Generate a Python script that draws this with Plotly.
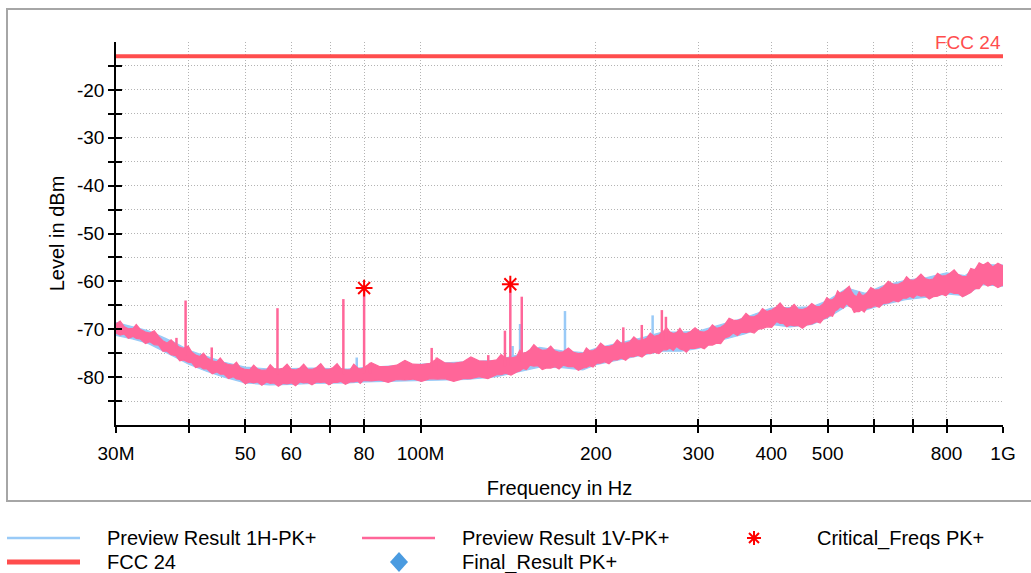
import math
import plotly.graph_objects as go

# ---------------- data (frequencies in MHz, levels in dBm) ----------------
# Preview Result 1V-PK+ : peak (upper) and floor (lower) envelope of the trace
v_freq = [30, 30.5, 31, 31.5, 32.1, 32.5, 33, 33.7, 34.3, 34.9,
          35.5, 36.1, 36.7, 37.3, 38, 38.6, 39.2, 39.9, 40.5, 41.1,
          41.8, 42.4, 43, 43.9, 44.7, 45.3, 46, 46.8, 47.7, 48.3,
          49, 50, 50.9, 51.7, 52.5, 53.4, 54.4, 55.2, 56, 57,
          58.1, 59, 60, 61, 62.1, 63, 64, 65.1, 66.3, 67.4,
          68.5, 69.6, 70.8, 71.9, 73, 74.3, 75.7, 76.8, 78, 78.8,
          79.7, 82.3, 85, 88, 91, 94, 97, 100.4, 103.8, 107,
          110, 114, 118.4, 122, 126, 130.5, 135.1, 137.5, 140, 143,
          146.3, 148, 150, 152, 154.1, 156.5, 159, 161.8, 164.6, 167.3,
          170, 172.9, 175.8, 179.4, 183, 186.6, 190.3, 192.6, 195, 197.8,
          200.6, 203.8, 207, 210.6, 214.2, 217.6, 221, 225, 228.8, 232.4,
          236, 240, 244.4, 248, 252, 256.5, 261, 264.5, 268, 271.6,
          275.2, 278.8, 282.5, 286, 290, 296, 301.8, 307, 312, 317,
          322.3, 327.6, 333, 338.6, 344.2, 350, 356, 362, 367.7, 374,
          380, 386.4, 392.9, 400.7, 408.6, 414.3, 420, 425.4, 430.8, 438,
          445, 452.6, 460.2, 469.5, 478.7, 485.4, 492, 498.3, 504.6, 509.8,
          515, 520, 524.9, 531.8, 538.8, 544.4, 550, 555.3, 560.7, 566.3,
          572, 577.7, 583.5, 593, 603, 613, 623.1, 635.5, 648, 661,
          674, 683, 692, 701.4, 710.8, 723, 735, 747, 759, 772,
          785, 798, 810.9, 824.4, 838, 852, 866.1, 880.5, 895, 910,
          924.8, 942, 960, 980, 1000]
v_upper = [-68.9, -68.3, -69.5, -69.9, -69.8, -69.0, -70.0, -70.6, -70.8, -70.3,
           -71.5, -72.4, -72.9, -72.2, -73.2, -73.8, -74.0, -73.5, -74.8, -75.4,
           -75.7, -75.0, -76.0, -76.6, -76.8, -76.0, -77.0, -77.4, -77.5, -76.9,
           -78.0, -78.4, -78.5, -77.5, -78.3, -78.6, -78.5, -77.4, -78.2, -78.4,
           -78.1, -77.3, -78.4, -78.5, -78.1, -77.3, -78.3, -78.4, -78.0, -77.2,
           -78.3, -78.4, -78.0, -77.2, -78.2, -78.5, -78.5, -77.3, -78.1, -78.3,
           -78.1, -77.0, -77.8, -77.8, -77.5, -76.5, -77.3, -77.4, -77.1, -76.1,
           -77.0, -77.1, -76.8, -75.8, -76.6, -76.7, -76.4, -75.3, -76.0, -76.0,
           -75.7, -74.4, -75.0, -74.8, -74.3, -73.2, -74.0, -74.4, -74.3, -73.5,
           -74.5, -74.8, -74.7, -73.9, -74.8, -75.1, -75.0, -73.9, -74.5, -74.5,
           -74.0, -72.9, -73.6, -73.6, -73.3, -72.2, -72.9, -72.9, -72.6, -71.6,
           -72.3, -72.3, -71.9, -70.8, -71.5, -71.2, -70.5, -69.7, -70.6, -70.9,
           -70.7, -69.8, -70.8, -70.9, -70.6, -69.7, -70.5, -70.6, -70.2, -69.1,
           -69.8, -69.6, -69.0, -67.7, -68.1, -68.2, -67.8, -66.7, -67.4, -67.4,
           -66.9, -65.7, -66.3, -66.0, -65.3, -64.5, -65.4, -65.7, -65.6, -64.8,
           -65.8, -65.9, -65.6, -64.6, -65.3, -65.2, -64.6, -63.4, -63.9, -63.8,
           -63.3, -62.0, -62.5, -62.2, -61.5, -61.0, -62.2, -62.9, -63.2, -62.2,
           -62.9, -62.9, -62.5, -61.3, -61.8, -61.7, -61.1, -60.0, -60.6, -60.6,
           -60.1, -59.0, -59.7, -59.8, -59.4, -58.5, -59.4, -59.7, -59.5, -58.3,
           -58.9, -58.8, -58.3, -57.6, -58.6, -59.0, -59.0, -57.3, -57.6, -56.1,
           -56.6, -56.0, -57.0, -56.2, -56.8]
v_lower = [-70.8, -71.2, -71.0, -71.9, -71.5, -71.9, -72.0, -73.0, -72.6, -73.2,
           -73.3, -74.6, -74.6, -75.3, -75.5, -76.6, -76.4, -76.9, -77.0, -78.0,
           -77.8, -78.3, -78.3, -79.3, -78.9, -79.4, -79.4, -80.3, -79.9, -80.4,
           -80.5, -81.4, -81.0, -81.2, -81.0, -81.7, -81.0, -81.3, -81.2, -81.9,
           -81.3, -81.4, -81.2, -81.8, -81.0, -81.2, -81.1, -81.6, -81.0, -81.1,
           -81.0, -81.6, -81.1, -81.1, -80.9, -81.5, -81.0, -81.0, -80.8, -81.3,
           -80.7, -80.8, -80.6, -81.1, -80.5, -80.6, -80.4, -80.9, -80.3, -80.4,
           -80.3, -80.9, -80.3, -80.3, -79.9, -80.3, -79.5, -79.5, -79.2, -79.6,
           -78.9, -78.7, -78.2, -78.4, -77.5, -77.7, -77.6, -78.4, -78.1, -78.1,
           -77.8, -78.3, -77.5, -77.8, -77.8, -78.6, -78.1, -78.0, -77.6, -77.9,
           -77.1, -77.1, -76.8, -77.2, -76.4, -76.4, -76.0, -76.5, -75.7, -75.7,
           -75.4, -75.8, -75.0, -75.1, -74.8, -75.1, -74.3, -74.3, -73.9, -74.4,
           -73.6, -74.1, -74.3, -74.8, -74.0, -74.0, -73.7, -74.1, -73.3, -73.3,
           -72.9, -73.0, -71.8, -71.5, -70.8, -71.3, -70.6, -70.7, -70.5, -70.8,
           -70.0, -69.9, -69.5, -69.6, -68.4, -68.8, -68.8, -69.5, -69.1, -69.3,
           -69.2, -69.8, -69.1, -68.9, -68.4, -68.7, -67.8, -67.6, -67.1, -67.3,
           -66.2, -65.9, -65.3, -65.6, -64.6, -65.2, -65.5, -66.5, -66.3, -66.3,
           -66.0, -66.4, -65.6, -65.5, -65.1, -65.4, -64.6, -64.5, -64.0, -64.3,
           -63.5, -63.5, -63.1, -63.5, -62.8, -63.1, -63.0, -63.7, -63.2, -63.1,
           -62.7, -63.0, -62.2, -62.5, -62.5, -63.2, -62.8, -62.3, -61.5, -61.5,
           -60.4, -61.0, -60.6, -61.3, -60.8]

# Preview Result 1H-PK+ : peak (upper) and floor (lower) envelope of the trace
h_freq = [30, 32, 34, 36, 38, 40, 43, 46, 50, 55, 60, 65, 70, 75, 80, 90, 100, 110, 120, 135,
          150, 160, 175, 190, 200, 220, 240, 260, 280, 300, 330, 360, 400, 430, 470, 500, 540,
          580, 620, 680, 740, 800, 860, 920, 1000]
h_upper = [-68.6, -69.4, -70.3, -71.6, -72.9, -74.4, -75.7, -76.9, -77.9, -78.3, -78.2, -78.1,
           -78.2, -78.3, -78.0, -77.6, -77.3, -77.0, -76.8, -76.5, -75.1, -73.8, -74.5, -74.9,
           -74.0, -72.8, -71.8, -70.6, -70.6, -70.4, -69.0, -67.6, -65.6, -65.4, -65.3, -64.0,
           -61.4, -62.5, -61.0, -59.8, -59.2, -58.2, -58.8, -56.5, -56.6]
h_lower = [-71.3, -72.0, -72.9, -74.4, -75.9, -77.3, -78.8, -80.0, -81.2, -81.6, -81.5, -81.3,
           -81.2, -81.2, -81.0, -80.8, -80.7, -80.6, -80.5, -79.9, -78.6, -77.9, -78.0, -78.5,
           -77.4, -76.3, -75.4, -74.6, -74.6, -74.0, -72.2, -71.0, -69.0, -69.5, -69.0, -67.6,
           -65.1, -66.0, -64.9, -63.8, -63.3, -62.6, -63.0, -60.7, -61.0]

# narrow-band emissions (spikes): frequency, peak level, level at the base of the spike
v_spike_freq = [38.1, 39.5, 43.8, 56.8, 73.7, 80.0, 81.9, 104.5, 106.6, 130.7, 139.6, 142.6,
                149.2, 222.9, 239.8, 259.6, 263.8]
v_spike_top = [-71.8, -64.0, -73.8, -65.6, -63.7, -61.4, -77.0, -73.9, -75.9, -75.4, -70.3,
               -60.6, -63.2, -69.6, -69.1, -66.0, -67.4]
v_spike_base = [-74.5, -75.5, -77.5, -79.5, -79.5, -79.3, -79.2, -78.6, -78.6, -78.0, -77.7,
                -77.5, -76.8, -74.4, -73.6, -72.5, -72.3]

h_spike_freq = [77.7, 143.9, 148.2, 177.0, 250.3]
h_spike_top = [-75.9, -73.5, -68.9, -66.2, -67.1]
h_spike_base = [-79.5, -77.8, -77.5, -76.2, -73.2]

crit_freq = [80.0, 142.6]
crit_level = [-61.4, -60.6]

fcc_freq = [30, 1000]
fcc_level = [-13, -13]

final_freq = []
final_level = []

x_tickvals = [30, 40, 50, 60, 70, 80, 100, 200, 300, 400, 500, 600, 700, 800, 1000]
x_ticktext = ["30M", "", "50", "60", "", "80", "100M", "200", "300", "400", "500", "", "", "800", "1G"]
y_tickvals = [-85, -80, -75, -70, -65, -60, -55, -50, -45, -40, -35, -30, -25, -20, -15]
y_ticktext = ["", "-80", "", "-70", "", "-60", "", "-50", "", "-40", "", "-30", "", "-20", ""]

legend_names = ["Preview Result 1H-PK+", "Preview Result 1V-PK+", "Critical_Freqs PK+",
                "FCC 24", "Final_Result PK+"]

# ---------------- styling ----------------
H_COLOR = "#99caf7"
V_COLOR = "#ff6699"
FCC_COLOR = "#ff4d4d"
CRIT_COLOR = "#ff0000"
FINAL_COLOR = "#4a9be0"
FONT = "Liberation Sans, Arial, sans-serif"

W, H = 1031, 573
ML, MR, MT, MB = 116, 28, 42, 148
PW, PH = W - ML - MR, H - MT - MB


def px(x):
    return (x - ML) / PW


def py(y):
    return (H - MB - y) / PH


def band(freq, upper, lower, color):
    return go.Scatter(x=list(freq) + list(freq)[::-1], y=list(upper) + list(lower)[::-1],
                      mode="lines", fill="toself", fillcolor=color,
                      line=dict(color=color, width=1.2), showlegend=False, hoverinfo="skip")


def spikes(freq, top, base, color):
    xs, ys = [], []
    for f, t, b in zip(freq, top, base):
        xs += [f, f, None]
        ys += [b, t, None]
    return go.Scatter(x=xs, y=ys, mode="lines", line=dict(color=color, width=2.5),
                      showlegend=False, hoverinfo="skip")


fig = go.Figure()
fig.add_trace(band(h_freq, h_upper, h_lower, H_COLOR))
fig.add_trace(spikes(h_spike_freq, h_spike_top, h_spike_base, H_COLOR))
fig.add_trace(band(v_freq, v_upper, v_lower, V_COLOR))
fig.add_trace(spikes(v_spike_freq, v_spike_top, v_spike_base, V_COLOR))
fig.add_trace(go.Scatter(x=fcc_freq, y=fcc_level, mode="lines",
                         line=dict(color=FCC_COLOR, width=4), showlegend=False))
fig.add_trace(go.Scatter(x=crit_freq, y=crit_level, mode="markers",
                         marker=dict(symbol="asterisk", size=14, color=CRIT_COLOR,
                                     line=dict(color=CRIT_COLOR, width=2)),
                         showlegend=False))
fig.add_trace(go.Scatter(x=final_freq, y=final_level, mode="markers",
                         marker=dict(symbol="diamond", size=14, color=FINAL_COLOR),
                         showlegend=False))
# empty trace on the overlay axes (they carry the inner half of the crossing ticks)
fig.add_trace(go.Scatter(x=[None], y=[None], xaxis="x2", yaxis="y2", mode="lines",
                         showlegend=False, hoverinfo="skip"))

axis_common = dict(showline=True, linecolor="black", linewidth=1.5,
                   ticks="outside", ticklen=6, tickwidth=1.5, tickcolor="black",
                   zeroline=False, tickfont=dict(family=FONT, size=19, color="black"))

fig.update_layout(
    width=W, height=H,
    margin=dict(l=ML, r=MR, t=MT, b=MB),
    paper_bgcolor="white", plot_bgcolor="white",
    showlegend=False,
    font=dict(family=FONT, color="black"),
    xaxis=dict(type="log", range=[math.log10(30), 3], tickvals=x_tickvals, ticktext=x_ticktext,
               showgrid=True, gridcolor="#b3b3b3", griddash="1px,2px", gridwidth=1,
               ticklabelstandoff=4,
               title=dict(text="Frequency in Hz", font=dict(family=FONT, size=20), standoff=18),
               **axis_common),
    yaxis=dict(range=[-90, -10], tickvals=y_tickvals, ticktext=y_ticktext,
               showgrid=True, gridcolor="#b3b3b3", griddash="1px,2px", gridwidth=1,
               title=dict(text="Level in dBm", font=dict(family=FONT, size=20), standoff=7),
               **axis_common),
    xaxis2=dict(type="log", range=[math.log10(30), 3], overlaying="x", anchor="y", side="bottom",
                tickvals=x_tickvals, ticks="inside", ticklen=6, tickwidth=1.5, tickcolor="black",
                showticklabels=False, showgrid=False, showline=False, zeroline=False),
    yaxis2=dict(range=[-90, -10], overlaying="y", anchor="x", side="left",
                tickvals=y_tickvals, ticks="inside", ticklen=6, tickwidth=1.5, tickcolor="black",
                showticklabels=False, showgrid=False, showline=False, zeroline=False),
)

shapes = []
annotations = []

# outer frame
shapes.append(dict(type="rect", xref="paper", yref="paper", x0=px(7), x1=px(1045),
                   y0=py(501), y1=py(9), line=dict(color="#a6a6a6", width=2), layer="below"))

# limit label
annotations.append(dict(xref="paper", yref="y", x=1, y=fcc_level[-1], xanchor="right",
                        yanchor="bottom", yshift=1, showarrow=False, text="FCC 24",
                        font=dict(family=FONT, size=19, color=FCC_COLOR)))

# custom legend
cols = [7, 362, 717]
rows = [538, 562]
items = [
    (legend_names[0], 0, 0, "line", H_COLOR, 2.5),
    (legend_names[1], 1, 0, "line", V_COLOR, 2.5),
    (legend_names[2], 2, 0, "star", CRIT_COLOR, 2),
    (legend_names[3], 0, 1, "line", FCC_COLOR, 5),
    (legend_names[4], 1, 1, "diamond", FINAL_COLOR, 0),
]
for name, c, r, kind, color, w in items:
    x0 = cols[c]
    yy = rows[r]
    if kind == "line":
        shapes.append(dict(type="line", xref="paper", yref="paper", x0=px(x0), x1=px(x0 + 73),
                           y0=py(yy), y1=py(yy), line=dict(color=color, width=w)))
    elif kind == "star":
        shapes.append(dict(type="path", xref="paper", yref="paper", xsizemode="pixel",
                           ysizemode="pixel", xanchor=px(x0 + 37), yanchor=py(yy),
                           path="M-7,0H7M0,-7V7M-5,-5L5,5M-5,5L5,-5",
                           line=dict(color=color, width=w)))
    else:
        shapes.append(dict(type="path", xref="paper", yref="paper", xsizemode="pixel",
                           ysizemode="pixel", xanchor=px(x0 + 37), yanchor=py(yy),
                           path="M-9,0L0,10L9,0L0,-10Z", fillcolor=color,
                           line=dict(color=color, width=0)))
    annotations.append(dict(xref="paper", yref="paper", x=px(x0 + 98), y=py(yy),
                            xanchor="left", yanchor="middle", showarrow=False, text=name,
                            font=dict(family=FONT, size=20, color="black")))

fig.update_layout(shapes=shapes, annotations=annotations)
fig.write_html("out.html")
